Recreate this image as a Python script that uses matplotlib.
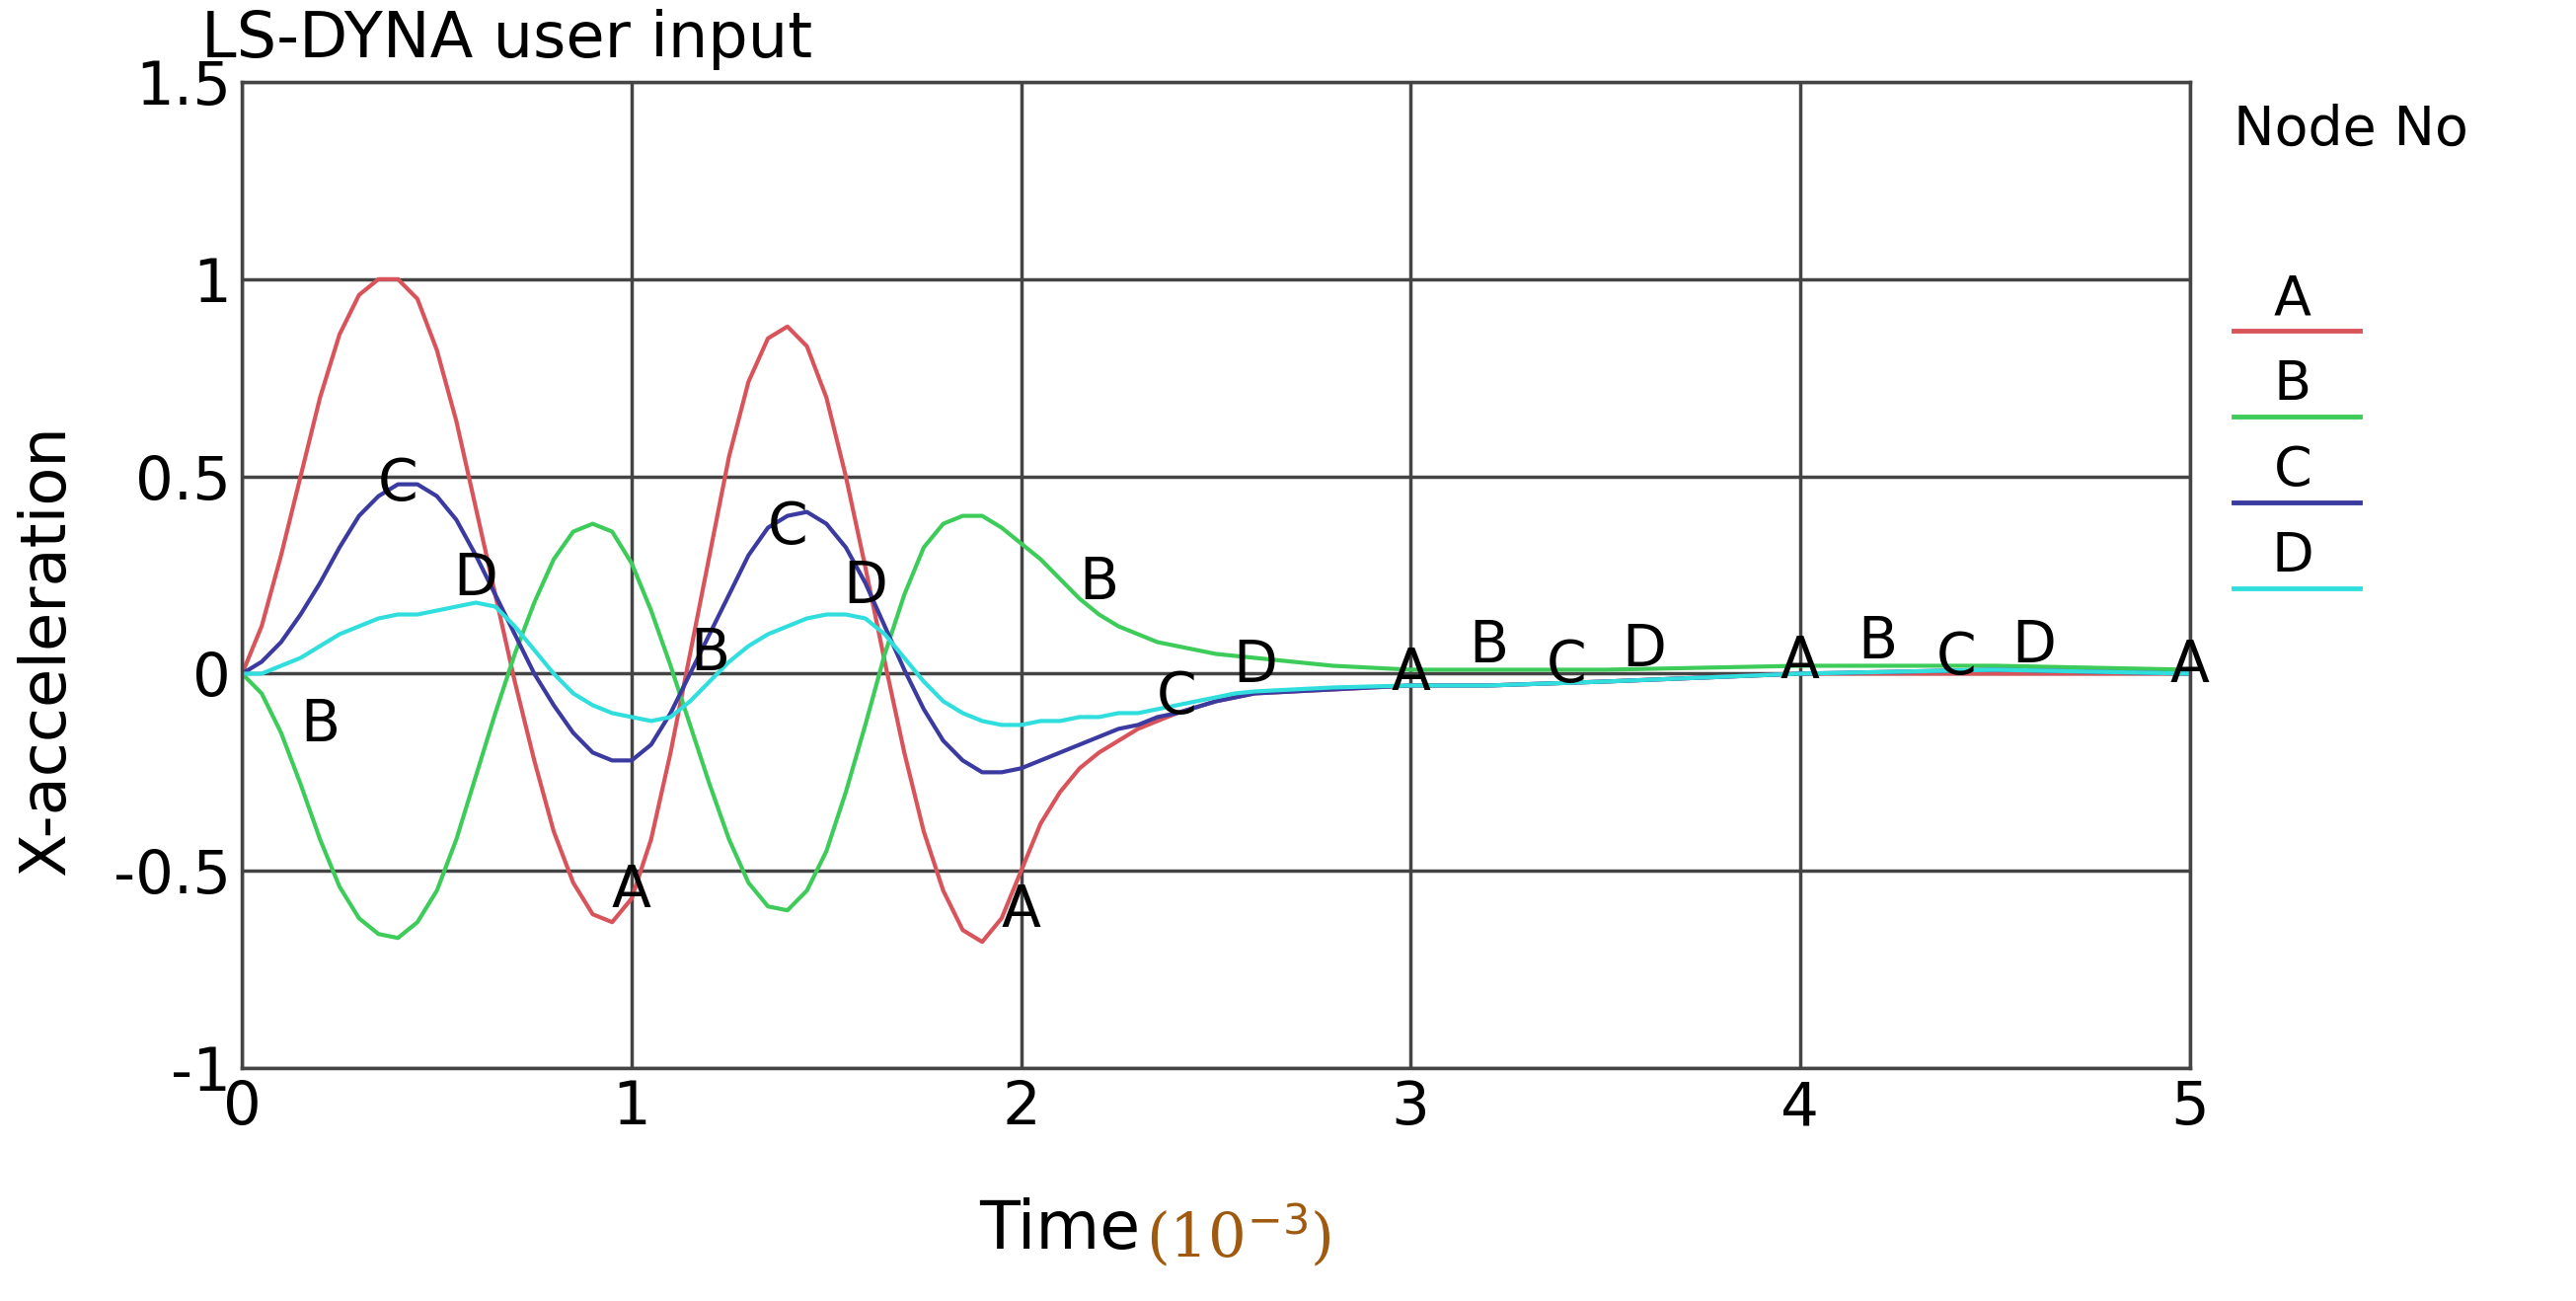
import matplotlib
matplotlib.use("Agg")
import matplotlib.pyplot as plt

t = [round(0.05 * i, 2) for i in range(53)] + [2.8, 3.0, 3.2, 3.5, 4.0, 4.5, 5.0]
A = [0, .12, .3, .5, .7, .86, .96, 1.0, 1.0, .95, .82, .64, .42, .2, -.02, -.22, -.4, -.53, -.61, -.63,
     -.57, -.42, -.2, .05, .3, .55, .74, .85, .88, .83, .7, .5, .27, .03, -.2, -.4, -.55, -.65, -.68, -.62,
     -.5, -.38, -.3, -.24, -.2, -.17, -.14, -.12, -.1, -.085, -.07, -.06, -.05,
     -.04, -.03, -.03, -.02, 0, 0, 0]
B = [0, -.05, -.15, -.28, -.42, -.54, -.62, -.66, -.67, -.63, -.55, -.42, -.26, -.1, .05, .18, .29, .36, .38, .36,
     .28, .16, .02, -.13, -.28, -.42, -.53, -.59, -.6, -.55, -.45, -.3, -.13, .05, .2, .32, .38, .4, .4, .37,
     .33, .29, .24, .19, .15, .12, .1, .08, .07, .06, .05, .045, .04,
     .02, .01, .01, .01, .02, .02, .01]
C = [0, .03, .08, .15, .23, .32, .4, .45, .48, .48, .45, .39, .3, .2, .1, 0, -.08, -.15, -.2, -.22,
     -.22, -.18, -.1, 0, .1, .2, .3, .37, .4, .41, .38, .32, .23, .12, .01, -.09, -.17, -.22, -.25, -.25,
     -.24, -.22, -.2, -.18, -.16, -.14, -.13, -.11, -.1, -.085, -.07, -.06, -.05,
     -.04, -.03, -.03, -.02, 0, .01, 0]
D = [0, 0, .02, .04, .07, .1, .12, .14, .15, .15, .16, .17, .18, .17, .12, .06, 0, -.05, -.08, -.1,
     -.11, -.12, -.11, -.07, -.02, .03, .07, .1, .12, .14, .15, .15, .14, .1, .04, -.02, -.07, -.1, -.12, -.13,
     -.13, -.12, -.12, -.11, -.11, -.1, -.1, -.09, -.08, -.07, -.06, -.05, -.045,
     -.035, -.03, -.03, -.02, 0, .01, 0]
labels = ["A", "B", "C", "D"]
colors = ["#d9545a", "#3dcc5a", "#3a3aa0", "#30dede"]
series = [A, B, C, D]

ann = [(0.2, -0.13, "B"), (0.4, 0.48, "C"), (0.6, 0.24, "D"), (1.2, 0.05, "B"), (1.0, -0.55, "A"),
       (1.4, 0.37, "C"), (1.6, 0.22, "D"), (2.2, 0.23, "B"), (2.0, -0.6, "A"), (2.4, -0.06, "C"),
       (2.6, 0.02, "D"), (3.0, 0.0, "A"), (3.2, 0.07, "B"), (3.4, 0.02, "C"), (3.6, 0.06, "D"),
       (4.0, 0.03, "A"), (4.2, 0.08, "B"), (4.4, 0.04, "C"), (4.6, 0.07, "D"), (5.0, 0.02, "A")]

fig = plt.figure(figsize=(26.1, 13.18), dpi=100)
ax = fig.add_axes([0.094, 0.179, 0.756, 0.758])
for s, c in zip(series, colors):
    ax.plot(t, s, color=c, lw=3)
for x, y, l in ann:
    ax.text(x, y, l, fontsize=42, ha="center", va="center", color="black")
ax.set_xlim(0, 5)
ax.set_ylim(-1, 1.5)
ax.set_xticks([0, 1, 2, 3, 4, 5])
ax.set_yticks([-1, -0.5, 0, 0.5, 1, 1.5])
ax.set_yticklabels(["-1", "-0.5", "0", "0.5", "1", "1.5"])
ax.tick_params(labelsize=44, length=0, pad=8)
ax.grid(True, color="#444444", lw=2.5)
for sp in ax.spines.values():
    sp.set_color("#444444"); sp.set_linewidth(2.5)

fig.text(0.078, 0.97, "LS-DYNA user input", fontsize=46, ha="left", va="center")
fig.text(0.018, 0.5, "X-acceleration", fontsize=46, rotation=90, ha="center", va="center")
fig.text(0.38, 0.055, "Time", fontsize=48, ha="left", va="center")
fig.text(0.445, 0.05, r"(10$^{-3}$)", fontsize=44, ha="left", va="center", color="#a05a10", family="DejaVu Serif")

fig.text(0.867, 0.9, "Node No", fontsize=40, ha="left", va="center")
for i, (l, c) in enumerate(zip(labels, colors)):
    y = 0.77 - i * 0.066
    fig.text(0.89, y, l, fontsize=40, ha="center", va="center")
    fig.add_artist(plt.Line2D([0.867, 0.916], [y - 0.024, y - 0.024], color=c, lw=3.5, transform=fig.transFigure))

fig.savefig("out.png", dpi=100)
